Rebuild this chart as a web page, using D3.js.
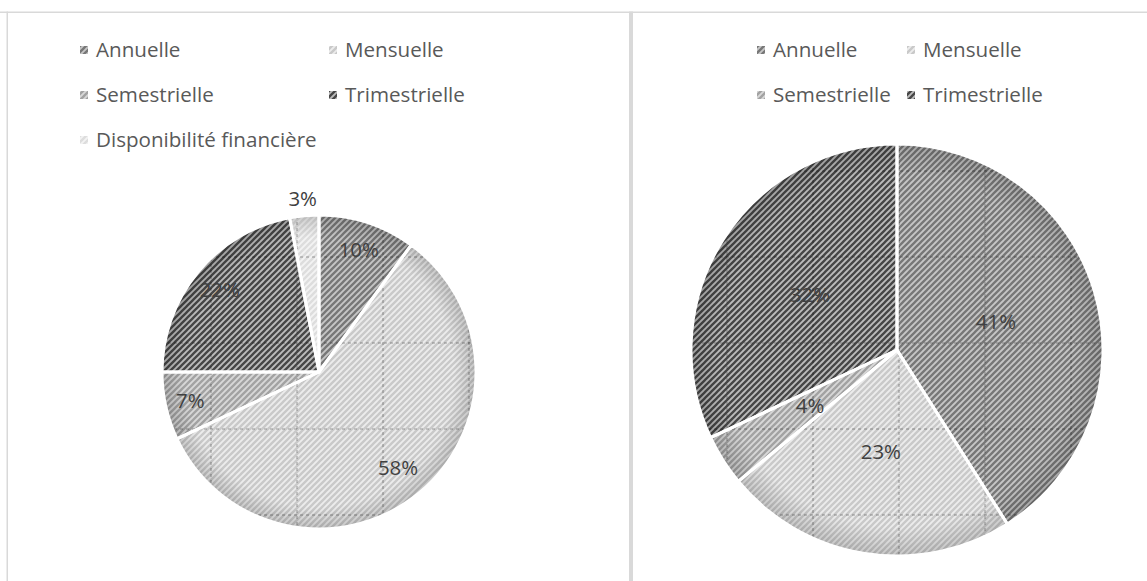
<!DOCTYPE html>
<html>
<head>
<meta charset="utf-8">
<script src="https://cdn.jsdelivr.net/npm/d3@7/dist/d3.min.js"></script>
<style>
  html, body { margin: 0; padding: 0; background: #fff; }
  svg { display: block; }
  text { font-family: "Open Sans", Lato, sans-serif; }
</style>
</head>
<body>
<svg id="chart" width="1147" height="581"></svg>
<script>
// Payment frequency shares, two surveys
const categories = ["Annuelle", "Mensuelle", "Semestrielle", "Trimestrielle", "Disponibilité financière"];
const leftValues = [10, 58, 7, 22, 3];
const rightCategories = ["Annuelle", "Mensuelle", "Semestrielle", "Trimestrielle"];
const rightValues = [41, 23, 4, 32];

// Hatch fills: background tone and stripe tone per category
const fillBase = ["#c6c6c6", "#ececec", "#d8d8d8", "#bcbcbc", "#f3f3f3"];
const fillStripe = ["#777777", "#c9c9c9", "#a2a2a2", "#464646", "#dddddd"];

const svg = d3.select("#chart");
const defs = svg.append("defs");

categories.forEach((c, i) => {
  const p = defs.append("pattern")
    .attr("id", "hatch" + i)
    .attr("patternUnits", "userSpaceOnUse")
    .attr("width", 6).attr("height", 6);
  p.append("rect").attr("width", 6).attr("height", 6).attr("fill", fillBase[i]);
  p.append("path")
    .attr("d", "M-1.5,1.5 L1.5,-1.5 M0,6 L6,0 M4.5,7.5 L7.5,4.5")
    .attr("stroke", fillStripe[i]).attr("stroke-width", 2.3);
});

// soft darkening toward the rim
const rim = defs.append("radialGradient").attr("id", "rim");
rim.append("stop").attr("offset", "0.86").attr("stop-color", "#000").attr("stop-opacity", 0);
rim.append("stop").attr("offset", "1").attr("stop-color", "#000").attr("stop-opacity", 0.16);

// panel frames
const frame = svg.append("g").attr("fill", "#d9d9d9");
frame.append("rect").attr("x", 0).attr("y", 11.5).attr("width", 1147).attr("height", 1.5);
frame.append("rect").attr("x", 6.5).attr("y", 11.5).attr("width", 1.5).attr("height", 570);
frame.append("rect").attr("x", 629).attr("y", 11.5).attr("width", 4).attr("height", 570);

function legend(items, x0, colGap, y0, rowGap) {
  const g = svg.append("g");
  items.forEach((name, i) => {
    const col = i % 2, row = Math.floor(i / 2);
    const x = x0 + col * colGap, y = y0 + row * rowGap;
    const idx = categories.indexOf(name);
    g.append("rect").attr("x", x).attr("y", y - 4).attr("width", 8).attr("height", 8)
      .attr("fill", "url(#hatch" + idx + ")");
    g.append("text").attr("x", x + 16).attr("y", y).attr("dy", "0.36em")
      .attr("fill", "#595959").attr("font-size", 20.6).text(name);
  });
}

function pie(values, names, cx, cy, r, labelFrac, outsideBelow, clipId) {
  const data = values.map((v, i) => ({ name: names[i], value: v }));
  const arcs = d3.pie().sort(null).value(d => d.value)(data);
  const arc = d3.arc().innerRadius(0).outerRadius(r);
  const g = svg.append("g").attr("transform", `translate(${cx},${cy})`);

  g.selectAll("path.slice").data(arcs).join("path")
    .attr("class", "slice")
    .attr("d", arc)
    .attr("fill", d => "url(#hatch" + categories.indexOf(d.data.name) + ")");

  g.append("circle").attr("r", r).attr("fill", "url(#rim)");

  // dashed page grid visible through the disc
  defs.append("clipPath").attr("id", clipId)
    .append("circle").attr("cx", cx).attr("cy", cy).attr("r", r);
  const grid = svg.append("g").attr("clip-path", `url(#${clipId})`)
    .attr("stroke", "#000").attr("stroke-opacity", 0.35)
    .attr("stroke-width", 1).attr("stroke-dasharray", "3,3");
  const gx = d3.range(-1, 13).map(k => 211 + 86 * k);
  const gy = d3.range(-2, 5).map(k => 257 + 86 * k);
  grid.selectAll("line.v").data(gx).join("line").attr("class", "v")
    .attr("x1", d => d).attr("x2", d => d).attr("y1", 0).attr("y2", 581);
  grid.selectAll("line.h").data(gy).join("line").attr("class", "h")
    .attr("y1", d => d).attr("y2", d => d).attr("x1", 0).attr("x2", 1147);

  // white slice separators drawn on top
  const sep = svg.append("g").attr("transform", `translate(${cx},${cy})`);
  sep.selectAll("path").data(arcs).join("path")
    .attr("d", arc).attr("fill", "none")
    .attr("stroke", "#fff").attr("stroke-width", 3).attr("stroke-linejoin", "round");

  const lab = svg.append("g").attr("transform", `translate(${cx},${cy})`);
  lab.selectAll("text").data(arcs).join("text")
    .attr("transform", d => {
      const a = (d.startAngle + d.endAngle) / 2;
      const rr = d.data.value < outsideBelow ? r + 17 : r * labelFrac(d);
      return `translate(${Math.sin(a) * rr},${-Math.cos(a) * rr})`;
    })
    .attr("text-anchor", "middle").attr("dy", "0.36em")
    .attr("fill", "#404040").attr("font-size", 20.4)
    .text(d => d.data.value + "%");
}

legend(categories, 80, 249, 50, 45);
legend(rightCategories, 757, 150, 50, 45);

pie(leftValues, categories, 319, 372, 157, d => (d.data.value < 10 ? 0.84 : d.data.value < 30 ? 0.82 : 0.79), 5, "clipL");
pie(rightValues, rightCategories, 897, 350, 206, d => 0.5, 0, "clipR");
</script>
</body>
</html>
